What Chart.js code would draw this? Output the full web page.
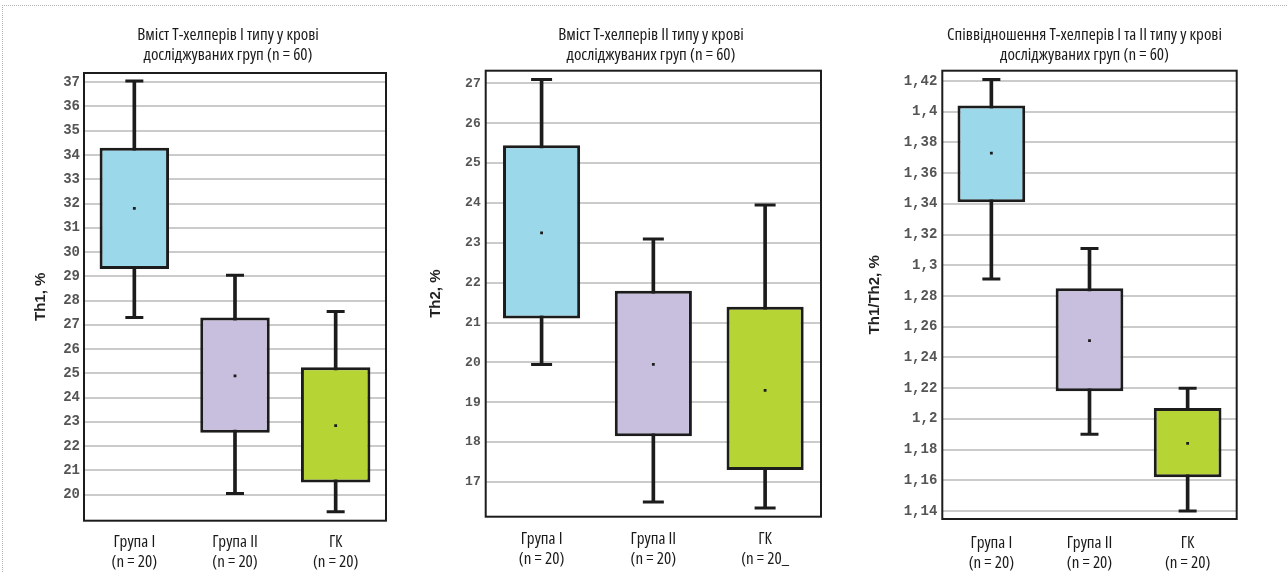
<!DOCTYPE html>
<html>
<head>
<meta charset="utf-8">
<script src="https://cdn.jsdelivr.net/npm/chart.js@4.4.1/dist/chart.umd.min.js"></script>
<style>
  html, body { margin: 0; padding: 0; background: #fff; overflow: hidden; width: 1287px; height: 573px; }
  .frame { position: absolute; left: 2px; top: 5px; width: 1300px; height: 600px;
           border-top: 1px dotted #b4b4b4; border-left: 1px dotted #b4b4b4; }
  canvas { position: absolute; top: 0; }
</style>
</head>
<body>
<div class="frame"></div>
<canvas id="th1" width="456" height="573" style="left:0px"></canvas>
<canvas id="th2" width="462" height="573" style="left:420px"></canvas>
<canvas id="ratio" width="469" height="573" style="left:850px"></canvas>
<script>
// Groups on the x axis
const groups = ['Група І', 'Група ІІ', 'ГК'];
const groupSizes = ['(n = 20)', '(n = 20)', '(n = 20)'];
const groupSizesTh2 = ['(n = 20)', '(n = 20)', '(n = 20_'];
const boxColors = ['#9bd8ea', '#c8bfdf', '#b6d434'];

// Th1, %
const th1Min  = [27.3, 20.05, 19.3];
const th1Q1   = [29.3, 22.55, 20.5];
const th1Mean = [31.8, 24.9, 22.85];
const th1Q3   = [34.3, 27.3, 25.25];
const th1Max  = [37.05, 29.05, 27.55];
const th1Ticks = [20, 21, 22, 23, 24, 25, 26, 27, 28, 29, 30, 31, 32, 33, 34, 35, 36, 37];
const th1TickLabels = ['20', '21', '22', '23', '24', '25', '26', '27', '28', '29', '30', '31', '32', '33', '34', '35', '36', '37'];

// Th2, %
const th2Min  = [19.95, 16.5, 16.35];
const th2Q1   = [21.1, 18.15, 17.3];
const th2Mean = [23.25, 19.95, 19.3];
const th2Q3   = [25.45, 21.8, 21.4];
const th2Max  = [27.1, 23.1, 23.95];
const th2Ticks = [17, 18, 19, 20, 21, 22, 23, 24, 25, 26, 27];
const th2TickLabels = ['17', '18', '19', '20', '21', '22', '23', '24', '25', '26', '27'];

// Th1/Th2
const ratioMin  = [1.291, 1.190, 1.140];
const ratioQ1   = [1.341, 1.218, 1.162];
const ratioMean = [1.373, 1.251, 1.184];
const ratioQ3   = [1.404, 1.285, 1.207];
const ratioMax  = [1.421, 1.311, 1.220];
const ratioTicks = [1.14, 1.16, 1.18, 1.2, 1.22, 1.24, 1.26, 1.28, 1.3, 1.32, 1.34, 1.36, 1.38, 1.4, 1.42];
const ratioTickLabels = ['1,14', '1,16', '1,18', '1,2', '1,22', '1,24', '1,26', '1,28', '1,3', '1,32', '1,34', '1,36', '1,38', '1,4', '1,42'];

const INK = '#1c1c1c';
// narrow caption face: Open Sans with its width axis pulled in
const CAPTION = { family: '"Open Sans", sans-serif', size: 17, weight: '400 condensed', lineHeight: 20 / 17 };

// Outline of the plotting area
const plotFrame = {
  id: 'plotFrame',
  afterDatasetsDraw(chart) {
    const { ctx, chartArea: a } = chart;
    ctx.save();
    ctx.strokeStyle = INK;
    ctx.lineWidth = 2;
    ctx.strokeRect(a.left, a.top, a.right - a.left, a.bottom - a.top);
    ctx.restore();
  }
};

function boxChart(id, o) {
  const labels = groups.map((g, i) => [g, o.sizes[i]]);
  return new Chart(document.getElementById(id), {
    type: 'bar',
    data: {
      labels,
      datasets: [
        { // whisker stems, min..max
          data: o.min.map((v, i) => [v, o.max[i]]),
          backgroundColor: INK, barThickness: 3, grouped: false, order: 3
        },
        { // interquartile boxes
          data: o.q1.map((v, i) => [v, o.q3[i]]),
          backgroundColor: boxColors, borderColor: INK, borderWidth: 3,
          borderSkipped: false, grouped: false, order: 2,
          barPercentage: 0.69, categoryPercentage: 1.0
        },
        { // whisker caps
          type: 'line', data: o.max, showLine: false, order: 1,
          pointStyle: 'line', pointRadius: o.cap, pointBorderWidth: 3, pointBorderColor: INK
        },
        {
          type: 'line', data: o.min, showLine: false, order: 1,
          pointStyle: 'line', pointRadius: o.cap, pointBorderWidth: 3, pointBorderColor: INK
        },
        { // means
          type: 'line', data: o.mean, showLine: false, order: 0,
          pointStyle: 'rect', pointRadius: 2, pointBorderWidth: 0, pointBackgroundColor: INK
        }
      ]
    },
    options: {
      responsive: false, animation: false, events: [],
      layout: { padding: 0 },
      plugins: {
        legend: { display: false },
        tooltip: { enabled: false },
        title: {
          display: true, text: o.title, color: '#1a1a1a', font: CAPTION,
          padding: { top: o.titleTop, bottom: o.titleBottom }
        }
      },
      scales: {
        x: {
          grid: { display: false, drawTicks: false }, border: { display: false },
          ticks: { color: '#1a1a1a', font: CAPTION,
                   padding: o.xPad, maxRotation: 0, autoSkip: false },
          afterFit: s => { s.height = o.xH; }
        },
        y: {
          min: o.yMin, max: o.yMax,
          grid: { color: '#cbcbcb', lineWidth: 2, drawTicks: false }, border: { display: false },
          afterBuildTicks: s => { s.ticks = o.ticks.map(v => ({ value: v })); },
          ticks: {
            color: '#555', padding: o.tickPad,
            font: { family: '"Liberation Mono", "DejaVu Sans Mono", monospace', size: o.tickSize, weight: 'bold' },
            callback: v => o.tickLabels[o.ticks.indexOf(v)]
          },
          title: {
            display: true, text: o.yTitle, color: '#222',
            font: { family: '"Liberation Sans", Arial, sans-serif', size: 15, weight: 'bold', lineHeight: 1.2 },
            padding: { top: o.yTitlePad, bottom: 0 }
          },
          afterFit: s => { s.width = o.yW; }
        },
        spacer: {
          type: 'linear', position: 'right', display: true,
          grid: { display: false, drawTicks: false }, border: { display: false },
          ticks: { display: false },
          afterFit: s => { s.width = o.rightW; }
        }
      }
    },
    plugins: [plotFrame]
  });
}

boxChart('th1', {
  title: ['Вміст Т-хелперів І типу у крові', 'досліджуваних груп (n = 60)'],
  yTitle: 'Th1, %', sizes: groupSizes,
  min: th1Min, q1: th1Q1, mean: th1Mean, q3: th1Q3, max: th1Max,
  ticks: th1Ticks, tickLabels: th1TickLabels, yMin: 18.93, yMax: 37.38,
  cap: 9, tickSize: 14, tickPad: 4,
  yW: 84, rightW: 70, yTitlePad: 31.5,
  titleTop: 25.5, titleBottom: 7.5, xH: 52.3, xPad: 11.6
});

boxChart('th2', {
  title: ['Вміст Т-хелперів ІІ типу у крові', 'досліджуваних груп (n = 60)'],
  yTitle: 'Th2, %', sizes: groupSizesTh2,
  min: th2Min, q1: th2Q1, mean: th2Mean, q3: th2Q3, max: th2Max,
  ticks: th2Ticks, tickLabels: th2TickLabels, yMin: 16.13, yMax: 27.32,
  cap: 10.5, tickSize: 13, tickPad: 5,
  yW: 65.7, rightW: 61, yTitlePad: 6.5,
  titleTop: 25.5, titleBottom: 5.2, xH: 56.3, xPad: 12.6
});

boxChart('ratio', {
  title: ['Співвідношення Т-хелперів І та ІІ типу у крові', 'досліджуваних груп (n = 60)'],
  yTitle: 'Th1/Th2, %', sizes: groupSizes,
  min: ratioMin, q1: ratioQ1, mean: ratioMean, q3: ratioQ3, max: ratioMax,
  ticks: ratioTicks, tickLabels: ratioTickLabels, yMin: 1.1348, yMax: 1.4267,
  cap: 9, tickSize: 14, tickPad: 5,
  yW: 92.3, rightW: 82.3, yTitlePad: 16,
  titleTop: 25.5, titleBottom: 5.2, xH: 54, xPad: 13.7
});
</script>
</body>
</html>
